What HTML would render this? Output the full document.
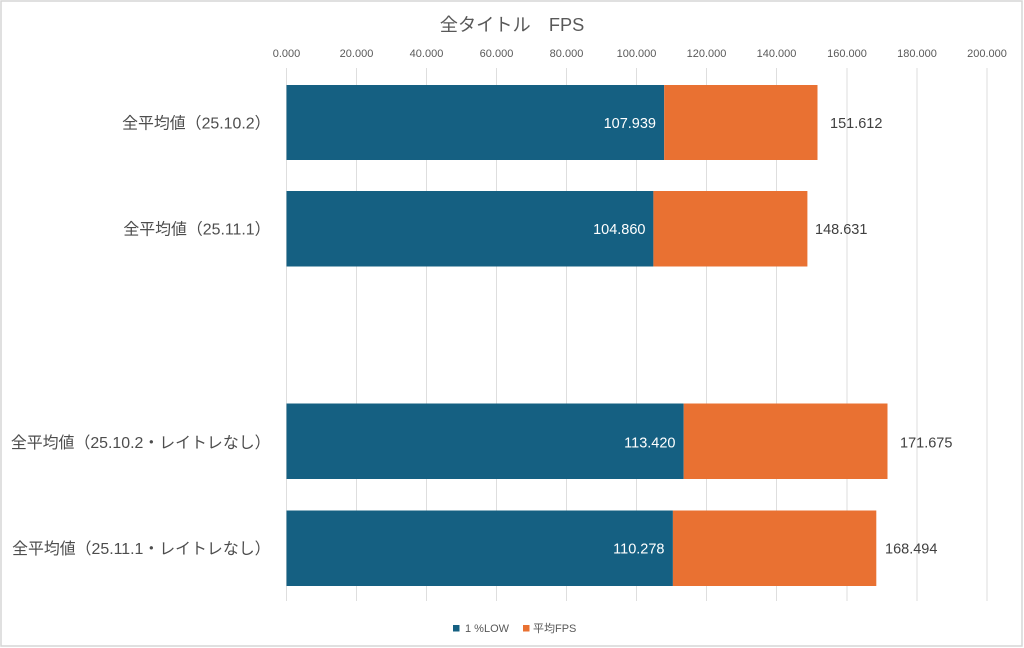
<!DOCTYPE html>
<html><head><meta charset="utf-8">
<style>
html,body{margin:0;padding:0;background:#fff;}
svg{display:block;}
text{font-family:"Liberation Sans","Noto Sans CJK JP",sans-serif;}
</style></head>
<body>
<svg width="1024" height="648" viewBox="0 0 1024 648" xmlns="http://www.w3.org/2000/svg">
<rect x="0" y="0" width="1024" height="648" fill="#fff"/>
<rect x="1" y="1" width="1021" height="645" fill="none" stroke="#d6d6d6" stroke-width="1.5"/>
<text x="512" y="31" font-size="18.2" fill="#595959" text-anchor="middle">全タイトル　FPS</text>
<g stroke="#dedede" stroke-width="1">
<line x1="286.5" y1="68" x2="286.5" y2="601"/>
<line x1="356.5" y1="68" x2="356.5" y2="601"/>
<line x1="426.5" y1="68" x2="426.5" y2="601"/>
<line x1="496.5" y1="68" x2="496.5" y2="601"/>
<line x1="566.5" y1="68" x2="566.5" y2="601"/>
<line x1="636.5" y1="68" x2="636.5" y2="601"/>
<line x1="706.5" y1="68" x2="706.5" y2="601"/>
<line x1="776.5" y1="68" x2="776.5" y2="601"/>
<line x1="847" y1="68" x2="847" y2="601"/>
<line x1="917" y1="68" x2="917" y2="601"/>
<line x1="987" y1="68" x2="987" y2="601"/>
</g>
<g font-size="11" fill="#595959" text-anchor="middle">
<text x="286.5" y="57">0.000</text>
<text x="356.5" y="57">20.000</text>
<text x="426.5" y="57">40.000</text>
<text x="496.5" y="57">60.000</text>
<text x="566.5" y="57">80.000</text>
<text x="636.5" y="57">100.000</text>
<text x="706.5" y="57">120.000</text>
<text x="776.5" y="57">140.000</text>
<text x="847" y="57">160.000</text>
<text x="917" y="57">180.000</text>
<text x="987" y="57">200.000</text>
</g>
<!-- bars -->
<rect x="286.5" y="85" width="377.7" height="75" fill="#156082"/>
<rect x="664.2" y="85" width="153.3" height="75" fill="#E97132"/>
<rect x="286.5" y="191" width="366.9" height="75.5" fill="#156082"/>
<rect x="653.4" y="191" width="154" height="75.5" fill="#E97132"/>
<rect x="286.5" y="403.5" width="397.2" height="75.5" fill="#156082"/>
<rect x="683.7" y="403.5" width="203.8" height="75.5" fill="#E97132"/>
<rect x="286.5" y="510.5" width="386.4" height="75.5" fill="#156082"/>
<rect x="672.9" y="510.5" width="203.4" height="75.5" fill="#E97132"/>
<!-- inside labels -->
<g font-size="14.5" fill="#ffffff" text-anchor="end">
<text x="656" y="128">107.939</text>
<text x="645.5" y="234">104.860</text>
<text x="675.5" y="447.5">113.420</text>
<text x="664.5" y="553.5">110.278</text>
</g>
<g font-size="14.5" fill="#404040">
<text x="830" y="128">151.612</text>
<text x="815" y="234">148.631</text>
<text x="900" y="447.5">171.675</text>
<text x="885" y="553.5">168.494</text>
</g>
<!-- category labels -->
<g font-size="15.9" fill="#4d4d4d" text-anchor="end">
<text x="270.5" y="128.5">全平均値（25.10.2）</text>
<text x="270.5" y="234.5">全平均値（25.11.1）</text>
<text x="270.5" y="448">全平均値（25.10.2・レイトレなし）</text>
<text x="270.5" y="554">全平均値（25.11.1・レイトレなし）</text>
</g>
<!-- legend -->
<rect x="453" y="625" width="6.5" height="6.5" fill="#156082"/>
<text x="465" y="632" font-size="11" fill="#595959">1 %LOW</text>
<rect x="523" y="625" width="6.5" height="6.5" fill="#E97132"/>
<text x="533" y="632" font-size="11" fill="#595959">平均FPS</text>
</svg>
</body></html>
